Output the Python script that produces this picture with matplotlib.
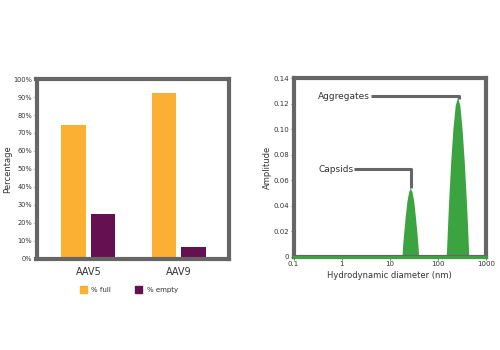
import matplotlib
matplotlib.use("Agg")
import matplotlib.pyplot as plt
from matplotlib.patches import Patch
import numpy as np

# dados
categorias = ["AAV5", "AAV9"]
pct_full = [74.5, 92.0]
pct_empty = [25.0, 6.5]

# picos (diametro em nm, amplitude)
capsid_x = [17.9, 18.6, 19.4, 21.0, 22.8, 24.7, 26.7, 29.0, 31.4, 34.0, 36.9, 38.4, 40.0]
capsid_y = [0, 0.010, 0.018, 0.032, 0.044, 0.051, 0.054, 0.051, 0.044, 0.032, 0.018, 0.010, 0]
agg_x = [149, 158, 166, 185, 206, 230, 256, 285, 317, 353, 394, 416, 439]
agg_y = [0, 0.022, 0.041, 0.075, 0.101, 0.119, 0.125, 0.119, 0.101, 0.075, 0.041, 0.022, 0]

laranja = "#fbb033"
roxo = "#651050"
verde = "#3ba441"
cinza = "#666666"
texto = "#333333"

plt.rcParams["font.family"] = "DejaVu Sans"
plt.rcParams["text.color"] = texto
plt.rcParams["axes.labelcolor"] = texto
plt.rcParams["xtick.labelcolor"] = texto
plt.rcParams["ytick.labelcolor"] = texto

fig = plt.figure(figsize=(5, 3.5), dpi=100)

# ---- grafico de barras
ax1 = fig.add_axes([0.073, 0.261, 0.385, 0.513])
x = np.arange(len(categorias))
larg = 0.27
ax1.bar(x - 0.165, pct_full, larg, color=laranja, label="% full")
ax1.bar(x + 0.165, pct_empty, larg, color=roxo, label="% empty")
ax1.set_xlim(-0.573, 1.556)
ax1.set_ylim(0, 100)
ax1.set_yticks(np.arange(0, 101, 10))
ax1.set_yticklabels([f"{v}%" for v in range(0, 101, 10)])
ax1.set_xticks(x)
ax1.set_xticklabels(categorias, fontsize=7)
ax1.set_ylabel("Percentage", fontsize=6)
ax1.yaxis.set_label_coords(-0.125, 0.5)
ax1.tick_params(axis="y", labelsize=4.8, length=2, width=0.6, color=cinza, pad=1)
ax1.tick_params(axis="x", length=0, pad=6)

ax1.legend(handles=[Patch(color=laranja, label="% full"), Patch(color=roxo, label="% empty")],
           loc="upper center", bbox_to_anchor=(0.48, -0.12), ncol=2, frameon=False,
           fontsize=5, handlelength=1.0, handleheight=1.0, columnspacing=3.5, handletextpad=0.6)

# ---- grafico de tamanho
ax2 = fig.add_axes([0.587, 0.266, 0.385, 0.511])
ax2.fill_between(capsid_x, capsid_y, color=verde, lw=0)
ax2.fill_between(agg_x, agg_y, color=verde, lw=0)
ax2.plot([0.1, 1000], [0, 0], color=verde, lw=2.2, clip_on=False, zorder=5)
ax2.set_xscale("log")
ax2.set_xlim(0.1, 1000)
ax2.set_ylim(0, 0.14)
ax2.set_xticks([0.1, 1, 10, 100, 1000])
ax2.set_xticklabels(["0.1", "1", "10", "100", "1000"])
ax2.minorticks_off()
ax2.set_yticks([0, 0.02, 0.04, 0.06, 0.08, 0.10, 0.12, 0.14])
ax2.set_yticklabels(["0", "0.02", "0.04", "0.06", "0.08", "0.10", "0.12", "0.14"])
ax2.tick_params(labelsize=5, length=2, width=0.6, color=cinza, pad=1)
ax2.set_xlabel("Hydrodynamic diameter (nm)", fontsize=6, labelpad=3)
ax2.set_ylabel("Amplitude", fontsize=6)
ax2.yaxis.set_label_coords(-0.11, 0.5)

# anotacoes
ax2.plot([4.03, 280, 280], [0.1259, 0.1259, 0.1236], color=cinza, lw=2.2, solid_capstyle="butt")
ax2.text(0.323, 0.1259, "Aggregates", fontsize=6.5, va="center", ha="left")
ax2.plot([1.81, 27.7, 27.7], [0.0688, 0.0688, 0.054], color=cinza, lw=2.2, solid_capstyle="butt")
ax2.text(0.323, 0.0688, "Capsids", fontsize=6.5, va="center", ha="left")

for ax in (ax1, ax2):
    for s in ax.spines.values():
        s.set_color(cinza)
        s.set_linewidth(3)

fig.savefig("out.png", dpi=100)
